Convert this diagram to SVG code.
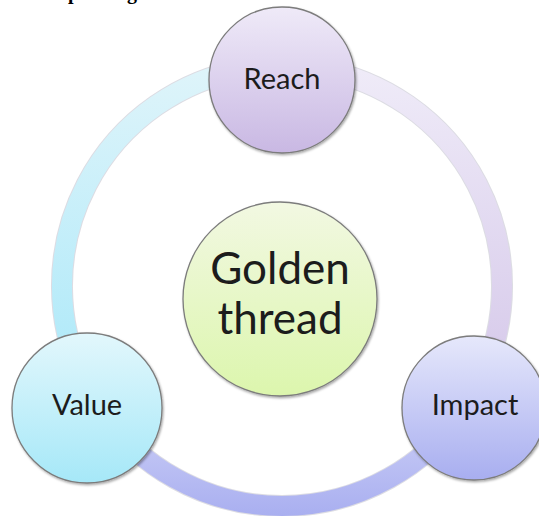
<svg xmlns="http://www.w3.org/2000/svg" width="539" height="516" viewBox="0 0 539 516">
<style>
.lbl{font-family:"Lato","Open Sans","Liberation Sans",sans-serif;fill:#1c1c1c;text-anchor:middle}
.node{stroke:#7c7c7c;stroke-width:1.3;filter:url(#sh)}
.seg{fill:none;stroke-width:20}
.edge{fill:none;stroke:#a8a8b8;stroke-width:22;opacity:0.4}
.title{font-family:"Liberation Serif",serif;font-weight:bold;font-size:20px;fill:#000}
</style>
<defs>
<filter id="sh" x="-10%" y="-10%" width="125%" height="125%">
<feDropShadow dx="1" dy="1.5" stdDeviation="1.2" flood-color="#000" flood-opacity="0.35"/>
</filter>
<linearGradient id="gReach" x1="0" y1="0" x2="0" y2="1">
<stop offset="0" stop-color="#efeaf8"/><stop offset="1" stop-color="#c9b8e3"/>
</linearGradient>
<linearGradient id="gImpact" x1="0" y1="0" x2="0" y2="1">
<stop offset="0" stop-color="#e6e8fb"/><stop offset="1" stop-color="#a8aef0"/>
</linearGradient>
<linearGradient id="gValue" x1="0" y1="0" x2="0" y2="1">
<stop offset="0" stop-color="#e2f7fc"/><stop offset="1" stop-color="#a6e8f8"/>
</linearGradient>
<linearGradient id="gGold" x1="0" y1="0" x2="0" y2="1">
<stop offset="0" stop-color="#f2f8e2"/><stop offset="1" stop-color="#dcf6ad"/>
</linearGradient>
<linearGradient id="sCyan" gradientUnits="userSpaceOnUse" x1="0" y1="70" x2="0" y2="380">
<stop offset="0" stop-color="#def4fa"/><stop offset="1" stop-color="#ade9f9"/>
</linearGradient>
<linearGradient id="sLav" gradientUnits="userSpaceOnUse" x1="0" y1="70" x2="0" y2="380">
<stop offset="0" stop-color="#efebf8"/><stop offset="1" stop-color="#d6c9ea"/>
</linearGradient>
<linearGradient id="sPeri" gradientUnits="userSpaceOnUse" x1="0" y1="420" x2="0" y2="516">
<stop offset="0" stop-color="#cacdf6"/><stop offset="1" stop-color="#a9aff0"/>
</linearGradient>
</defs>
<text class="title" x="68" y="-1">p</text>
<text class="title" x="127" y="-1">g</text>
<g id="connectors">
<path class="edge" d="M82.6,379 A220,220 0 0 1 243.8,69.3"/>
<path class="edge" d="M320.2,69.3 A220,220 0 0 1 481.4,379"/>
<path class="edge" d="M462.2,412.2 A220,220 0 0 1 101.8,412.2"/>
<path class="seg" stroke="url(#sCyan)" d="M82.6,379 A220,220 0 0 1 243.8,69.3"/>
<path class="seg" stroke="url(#sLav)" d="M320.2,69.3 A220,220 0 0 1 481.4,379"/>
<path class="seg" stroke="url(#sPeri)" d="M462.2,412.2 A220,220 0 0 1 101.8,412.2"/>
</g>
<g id="golden">
<circle class="node" cx="280" cy="299" r="97" fill="url(#gGold)"/>
<text class="lbl" x="280" y="284" font-size="44">Golden</text>
<text class="lbl" x="280" y="334" font-size="44">thread</text>
</g>
<g id="reach">
<circle class="node" cx="282" cy="80" r="73" fill="url(#gReach)"/>
<text class="lbl" x="282" y="89" font-size="29">Reach</text>
</g>
<g id="impact">
<circle class="node" cx="474" cy="408" r="72" fill="url(#gImpact)"/>
<text class="lbl" x="475" y="415" font-size="29">Impact</text>
</g>
<g id="value">
<circle class="node" cx="87" cy="408" r="75" fill="url(#gValue)"/>
<text class="lbl" x="87" y="415" font-size="29">Value</text>
</g>
</svg>
